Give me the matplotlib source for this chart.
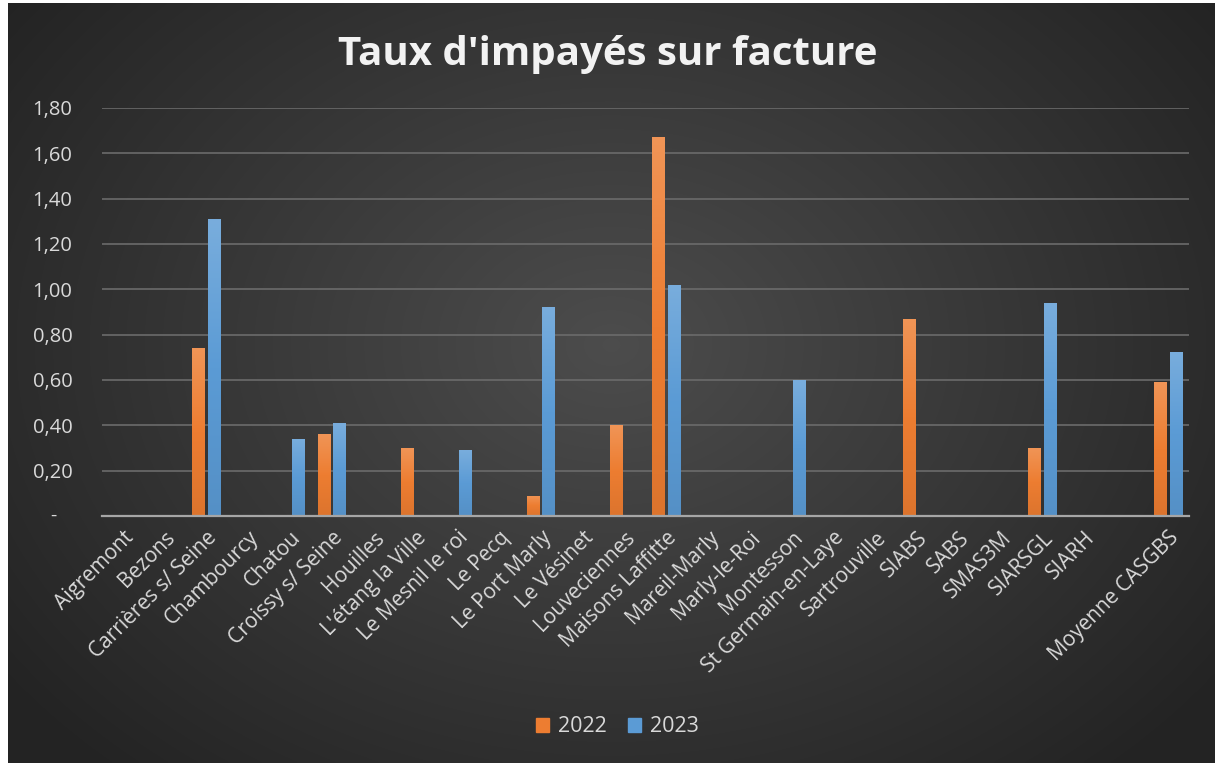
import matplotlib
matplotlib.use("Agg")
import matplotlib.pyplot as plt
import numpy as np
from matplotlib.colors import LinearSegmentedColormap
from matplotlib.patches import Rectangle
from matplotlib.ticker import FuncFormatter, MultipleLocator

# ── Data ──────────────────────────────────────────────────────────────────────
categories = [
    "Aigremont", "Bezons", "Carrières s/ Seine", "Chambourcy", "Chatou",
    "Croissy s/ Seine", "Houilles", "L'étang la Ville", "Le Mesnil le roi",
    "Le Pecq", "Le Port Marly", "Le Vésinet", "Louveciennes", "Maisons Laffitte",
    "Mareil-Marly", "Marly-le-Roi", "Montesson", "St Germain-en-Laye",
    "Sartrouville", "SIABS", "SABS", "SMAS3M", "SIARSGL", "SIARH", "",
    "Moyenne CASGBS",
]
# None = no value
vals_2022 = [None, None, 0.74, None, None, 0.36, None, 0.30, None, None, 0.09,
             None, 0.40, 1.67, None, None, None, None, None, 0.87, None, None,
             0.30, None, None, 0.59]
vals_2023 = [None, None, 1.31, None, 0.34, 0.41, None, None, 0.29, None, 0.92,
             None, None, 1.02, None, None, 0.60, None, None, None, None, None,
             0.94, None, None, 0.725]
series_labels = ["2022", "2023"]

ORANGE = "#ED7D31"
BLUE = "#5B9BD5"
TXT = "#d9d9d9"

plt.rcParams["font.family"] = ["Open Sans", "DejaVu Sans"]

W, H = 1215, 763
fig = plt.figure(figsize=(W / 100, H / 100), dpi=100)
fig.patch.set_facecolor("white")

# ── Background: dark radial gradient, thin white strip left/top ───────────────
bg = fig.add_axes([8 / W, 0, 1 - 8 / W, 1 - 3 / H])
bg.set_axis_off()
yy, xx = np.mgrid[0:1:300j, 0:1:500j]
r = np.sqrt(((xx - 0.5) / 0.62) ** 2 + ((yy - 0.45) / 0.75) ** 2)
shade = np.clip(0.30 - 0.16 * r, 0.14, 0.30)
bg.imshow(np.dstack([shade] * 3), aspect="auto", extent=[0, 1, 0, 1],
          interpolation="bilinear")
bg.set_xlim(0, 1)
bg.set_ylim(0, 1)

# ── Main axes ────────────────────────────────────────────────────────────────
ax = fig.add_axes([102 / W, 1 - 516 / H, (1189 - 102) / W, (516 - 108) / H])
ax.patch.set_alpha(0)

x = np.arange(len(categories))
w = 0.31
off = 0.19


def grad_bars(xs, vals, color, label):
    hs = [v if v is not None else 0 for v in vals]
    bars = ax.bar(xs, hs, width=w, color=color, label=label, zorder=3,
                  linewidth=0)
    c = np.array(matplotlib.colors.to_rgb(color))
    light = c + (1 - c) * 0.18
    dark = c * 0.93
    cmap = LinearSegmentedColormap.from_list("g", [dark, c, light])
    grad = np.linspace(0, 1, 100).reshape(-1, 1)
    for b, v in zip(bars, vals):
        if v is None:
            continue
        x0 = b.get_x()
        im = ax.imshow(grad, cmap=cmap, aspect="auto", origin="lower",
                       extent=[x0, x0 + w, 0, v], zorder=4)
        im.set_clip_path(b)
    return bars


grad_bars(x - off, vals_2022, ORANGE, series_labels[0])
grad_bars(x + off, vals_2023, BLUE, series_labels[1])

ax.set_xlim(-0.5, len(categories) - 0.5)
ax.set_ylim(0, 1.8)
ax.yaxis.set_major_locator(MultipleLocator(0.2))
ax.yaxis.set_major_formatter(FuncFormatter(
    lambda v, _: "" if abs(v) < 1e-9 else f"{v:.2f}".replace(".", ",")))
ax.grid(axis="y", color="#6b6b6b", linewidth=1.2, zorder=0)
ax.set_axisbelow(True)
for s in ["top", "right", "left"]:
    ax.spines[s].set_visible(False)
ax.spines["bottom"].set_color("#a6a6a6")
ax.spines["bottom"].set_linewidth(1.6)
ax.spines["bottom"].set_zorder(5)

ax.set_xticks(x)
ax.set_xticklabels(categories, rotation=45, ha="right", rotation_mode="anchor",
                   fontsize=15, color=TXT)
ax.tick_params(axis="x", length=0, pad=8)
ax.tick_params(axis="y", length=0, pad=50, labelsize=14.5, labelcolor=TXT)
for lab in ax.get_yticklabels():
    lab.set_horizontalalignment("left")
# accounting-style dash for zero
ax.annotate("-", xy=(0, 0), xycoords="axes fraction", xytext=(-35, 0),
            textcoords="offset points", ha="center", va="center",
            fontsize=14, color=TXT)

# ── Title ─────────────────────────────────────────────────────────────────────
fig.text(0.5, 1 - 54 / H, "Taux d'impayés sur facture", ha="center",
         va="center", fontsize=29, fontweight="bold", color="#f2f2f2")

# ── Legend ────────────────────────────────────────────────────────────────────
handles = [Rectangle((0, 0), 1, 1, color=ORANGE), Rectangle((0, 0), 1, 1, color=BLUE)]
leg = fig.legend(handles, series_labels, loc="center",
                 bbox_to_anchor=(0.5 + 10 / W, 1 - 727 / H),
                 ncol=2, frameon=False, fontsize=15.5, handlelength=0.6,
                 handleheight=0.6, handletextpad=0.4, columnspacing=1.0)
for t in leg.get_texts():
    t.set_color(TXT)

fig.savefig("out.png", dpi=100)
